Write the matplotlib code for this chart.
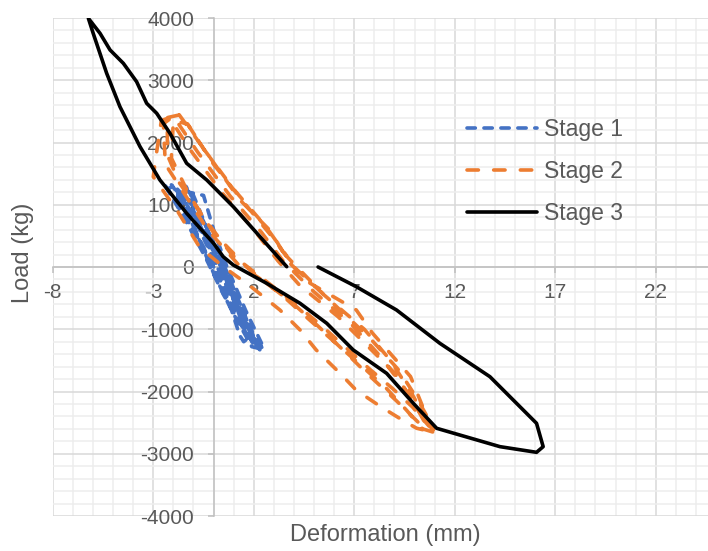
import numpy as np
import matplotlib.pyplot as plt
from matplotlib.ticker import MultipleLocator, FixedLocator

# Dados (deformação em mm, carga em kg)
stage1_x = [0.0, -1.0, -2.0, -2.5, -1.5, -0.7, 0.2, 0.8, 1.3, 1.5,
            1.7, 1.2, 0.5, -0.3, -1.1, -1.4,
            -1.0, -0.3, 0.4, 1.2, 1.9, 2.2, 1.9, 1.0, 0.2, -0.8, -1.8,
            -1.2, -0.5, 0.5, 1.4, 2.3, 2.1, 1.2, 0.3, -0.6, -1.2,
            -0.5, 0.0, 0.67, 1.6, 2.5, 2.2, 1.3, 0.4, -0.9, -2.0,
            -2.3, -1.4, -0.4, 0.5, 1.5, 2.1, 2.4, 2.0, 1.1, 0.1, -0.7, -1.5,
            -1.9, -1.0, -0.1, 0.8, 1.7, 2.3, 2.0, 1.4, 0.6, -0.2, -1.0, -2.1,
            -1.6, -0.8, 0.0, 0.9, 1.9, 2.4]
stage1_y = [0, 600, 1100, 1350, 900, 400, -100, -600, -1100, -1200,
            -1150, -700, -100, 500, 1100, 1300,
            1150, 600, 0, -650, -1200, -1300, -1100, -400, 250, 900, 1250,
            1050, 550, -100, -800, -1310, -1200, -500, 200, 800, 1200,
            1150, 600, 0, -700, -1300, -1230, -600, 0, 800, 1300,
            1250, 750, 150, -450, -1000, -1250, -1290, -1150, -600, 50, 600, 1050,
            1200, 650, 50, -550, -1100, -1330, -1150, -800, -300, 300, 850, 1320,
            1100, 500, -100, -700, -1280, -1320]

stage2_x = [-1.7, -0.2, 1.3, 2.8, 3.8, 4.8, 7.1, 7.9, 9.8, 10.4, 10.9, 11.0,
            10.1, 9.4, 8.3, 7.1, 6.3, 5.1, 4.3, 3.3, 1.8, 0.5, -0.7, -1.8, -3.0, -2.9, -2.6,
            -2.2, -1.2, 0.4, 2.0, 3.2, 4.3, 6.2, 7.6, 9.0, 10.0, 10.6,
            10.2, 9.1, 7.6, 6.5, 5.2, 4.0, 2.6, 1.2, -0.3, -1.5, -2.4, -2.5,
            -2.0, -0.8, 0.8, 2.4, 3.5, 5.0, 6.8, 8.2, 9.4, 10.3, 10.9,
            10.4, 9.6, 8.6, 7.4, 6.0, 4.6, 3.5, 2.2, 0.9, -0.5, -1.7, -2.3, -2.3,
            -1.6, -0.5, 1.0, 2.6, 3.7, 5.5, 7.5, 8.8, 9.8, 10.6, 11.1,
            10.7, 9.9, 8.9, 7.8, 6.6, 5.4, 4.1, 2.9, 1.5, 0.0, -1.2, -2.1, -2.0,
            -1.3, 0.0, 1.6, 3.0, 4.0, 6.0, 7.8, 9.2, 10.1, 10.8]
stage2_y = [2440, 1770, 1080, 590, 60, -260, -690, -1060, -1760, -2240, -2620, -2660,
            -2590, -2460, -2240, -1980, -1710, -1330, -1010, -690, -300, 0, 320, 900, 1450, 1700, 2350,
            2400, 1900, 1200, 600, 100, -300, -800, -1250, -1700, -2200, -2550,
            -2500, -2150, -1700, -1350, -950, -600, -250, 50, 600, 1200, 1650, 2300,
            2420, 1850, 1150, 550, 80, -400, -900, -1400, -1900, -2350, -2650,
            -2600, -2300, -1950, -1600, -1200, -800, -480, -150, 200, 800, 1350, 1800, 2400,
            2450, 1900, 1250, 650, 150, -450, -1000, -1500, -2000, -2450, -2640,
            -2550, -2250, -1950, -1650, -1300, -950, -600, -300, 50, 550, 1150, 1750, 2350,
            2300, 1650, 1000, 450, 0, -600, -1150, -1650, -2100, -2500]

stage3_x = [5.2, 7.1, 9.1, 11.26, 13.75, 16.07, 16.4, 16.07, 14.25, 11.1,
            9.94, 8.61, 6.95, 5.63, 4.3, 2.64, 0.98, 0.48, 0.0, -1.34,
            -2.67, -3.66, -4.66, -5.32, -5.99, -6.23, -5.65, -5.15, -4.49, -3.83,
            -3.33, -2.83, -2.17, -1.34, -0.34, 0.98, 2.31, 3.64]
stage3_y = [0, -316, -690, -1226, -1762, -2511, -2886, -2977, -2886, -2591,
            -2190, -1708, -1333, -904, -583, -262, 32, 165, 380, 863,
            1398, 1933, 2575, 3112, 3754, 3995, 3754, 3486, 3272, 2977,
            2630, 2469, 2148, 1666, 1398, 969, 487, 5]

x_ticks = [-8, -3, 2, 7, 12, 17, 22]
y_ticks = [-4000, -3000, -2000, -1000, 0, 1000, 2000, 3000, 4000]

plt.rcParams.update({
    "font.family": ["Liberation Sans", "DejaVu Sans"],
    "lines.scale_dashes": False,
    "axes.unicode_minus": False,
})
cinza = "#595959"

fig = plt.figure(figsize=(7.08, 5.51), dpi=100)
ax = fig.add_axes([52.8 / 708, 35 / 551, 663.2 / 708, 498 / 551])

ax.plot(stage1_x, stage1_y, color="#4472C4", lw=2.6, dashes=(6.0, 6.2),
        dash_capstyle="round", label="Stage 1", zorder=3)
ax.plot(stage2_x, stage2_y, color="#ED7D31", lw=2.6, dashes=(8.2, 11.0),
        dash_capstyle="round", label="Stage 2", zorder=4)
ax.plot(stage3_x, stage3_y, color="black", lw=2.6, solid_capstyle="round",
        solid_joinstyle="round", label="Stage 3", zorder=5)

ax.set_xlim(-8, 25)
ax.set_ylim(-4000, 4000)

# --- eixos cruzando em zero, estilo Excel ---
for lado in ["top", "right"]:
    ax.spines[lado].set_visible(False)
ax.spines["left"].set_position(("data", 0))
ax.spines["bottom"].set_position(("data", 0))
for lado in ["left", "bottom"]:
    ax.spines[lado].set_color("#BFBFBF")
    ax.spines[lado].set_linewidth(1.1)
    ax.spines[lado].set_zorder(2)

ax.xaxis.set_major_locator(FixedLocator(x_ticks))
ax.xaxis.set_minor_locator(MultipleLocator(1))
ax.yaxis.set_major_locator(FixedLocator(y_ticks))
ax.yaxis.set_minor_locator(MultipleLocator(200))

ax.tick_params(axis="both", which="major", labelsize=15, labelcolor=cinza,
               color="#BFBFBF", width=1.1, length=4, direction="out")
ax.tick_params(axis="x", which="major", pad=7.5)
ax.tick_params(axis="y", which="major", pad=10)
ax.tick_params(which="minor", length=0)

ax.grid(True, which="major", color="#D9D9D9", lw=1.1, zorder=0)
ax.grid(True, which="minor", color="#EDEDED", lw=1.1, zorder=0)
ax.set_axisbelow(True)

fig.text(385 / 708, 1 - 535 / 551, "Deformation (mm)", fontsize=17,
         color=cinza, ha="center", va="center")
fig.text(22.5 / 708, 1 - 253 / 551, "Load (kg)", fontsize=17, color=cinza,
         ha="center", va="center", rotation=90)

ax.legend(loc="upper left", bbox_to_anchor=(467 / 708, 1 - 118 / 551),
          bbox_transform=fig.transFigure, frameon=False, fontsize=16.5,
          labelcolor=cinza, handlelength=3.05, handletextpad=0.3,
          labelspacing=0.82, borderpad=0, borderaxespad=0)

fig.savefig("out.png", dpi=100)
